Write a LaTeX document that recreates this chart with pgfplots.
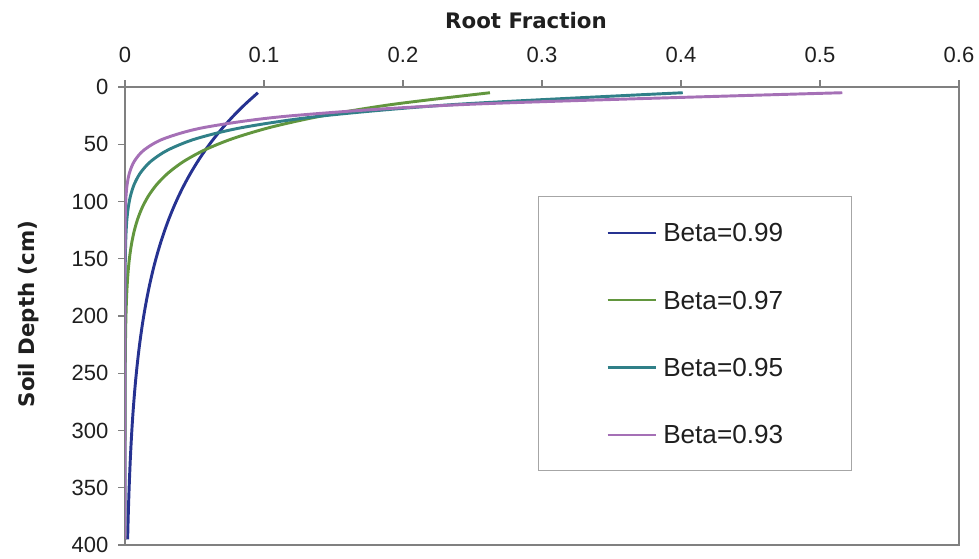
\documentclass[border=0pt]{standalone}
\usepackage{fontspec}
\setmainfont{Liberation Sans}
\newfontfamily\dejavu{DejaVu Sans}
\usepackage{pgfplots}
\usepackage{pgfplotstable}
\pgfplotsset{compat=1.18}
\definecolor{cblue}{RGB}{38,50,145}
\definecolor{cgreen}{RGB}{98,150,62}
\definecolor{cteal}{RGB}{48,128,136}
\definecolor{cpurple}{RGB}{165,112,182}
\pgfplotstableread{
d f
5 0.09562
15 0.08648
25 0.07821
35 0.07073
45 0.06397
55 0.05785
65 0.05232
75 0.04732
85 0.04279
95 0.03870
105 0.03500
115 0.03165
125 0.02863
135 0.02589
145 0.02341
155 0.02117
165 0.01915
175 0.01732
185 0.01566
195 0.01417
205 0.01281
215 0.01159
225 0.01048
235 0.00948
245 0.00857
255 0.00775
265 0.00701
275 0.00634
285 0.00573
295 0.00518
305 0.00469
315 0.00424
325 0.00383
335 0.00347
345 0.00314
355 0.00284
365 0.00257
375 0.00232
385 0.00210
395 0.00190
}\tbA
\pgfplotstableread{
d f
5 0.26258
15 0.19363
25 0.14279
35 0.10530
45 0.07765
55 0.05726
65 0.04222
75 0.03114
85 0.02296
95 0.01693
105 0.01249
115 0.00921
125 0.00679
135 0.00501
145 0.00369
155 0.00272
165 0.00201
175 0.00148
185 0.00109
195 0.00081
205 0.00059
215 0.00044
225 0.00032
235 0.00024
245 0.00018
255 0.00013
265 0.00010
275 0.00007
285 0.00005
295 0.00004
305 0.00003
315 0.00002
325 0.00002
335 0.00001
345 0.00001
355 0.00001
365 0.00000
375 0.00000
385 0.00000
395 0.00000
}\tbB
\pgfplotstableread{
d f
5 0.40126
15 0.24025
25 0.14385
35 0.08613
45 0.05157
55 0.03088
65 0.01849
75 0.01107
85 0.00663
95 0.00397
105 0.00238
115 0.00142
125 0.00085
135 0.00051
145 0.00031
155 0.00018
165 0.00011
175 0.00007
185 0.00004
195 0.00002
205 0.00001
215 0.00000
225 0.00000
235 0.00000
245 0.00000
255 0.00000
265 0.00000
275 0.00000
285 0.00000
295 0.00000
305 0.00000
315 0.00000
325 0.00000
335 0.00000
345 0.00000
355 0.00000
365 0.00000
375 0.00000
385 0.00000
395 0.00000
}\tbC
\pgfplotstableread{
d f
5 0.51602
15 0.24974
25 0.12087
35 0.05850
45 0.02831
55 0.01370
65 0.00663
75 0.00321
85 0.00155
95 0.00075
105 0.00036
115 0.00018
125 0.00008
135 0.00004
145 0.00002
155 0.00001
165 0.00000
175 0.00000
185 0.00000
195 0.00000
205 0.00000
215 0.00000
225 0.00000
235 0.00000
245 0.00000
255 0.00000
265 0.00000
275 0.00000
285 0.00000
295 0.00000
305 0.00000
315 0.00000
325 0.00000
335 0.00000
345 0.00000
355 0.00000
365 0.00000
375 0.00000
385 0.00000
395 0.00000
}\tbD
\begin{document}
\begin{tikzpicture}
\begin{axis}[
  at={(0pt,0pt)}, anchor=south west,
  scale only axis,
  width=625.5pt, height=343.5pt,
  xmin=0, xmax=0.6, ymin=0, ymax=400,
  y dir=reverse,
  xtick={0,0.1,0.2,0.3,0.4,0.5,0.6},
  xticklabels={0,0.1,0.2,0.3,0.4,0.5,0.6},
  ytick={0,50,100,150,200,250,300,350,400},
  xtick pos=upper, xticklabel pos=upper,
  ytick pos=left,
  tick align=outside,
  major tick length=5pt,
  axis line style={draw=black!50, line width=1.5pt},
  major tick style={draw=black!50, line width=0.9pt},
  ticklabel style={font=\fontsize{16.5}{19}\selectfont, text=black!88},
  /pgf/number format/assume math mode=true,
  xticklabel style={yshift=10pt},
  yticklabel style={xshift=-4pt},
  legend style={at={(axis cs:0.2971,95.2)}, anchor=north west,
    draw=black!35, line width=0.75pt,
    inner xsep=51pt, inner ysep=20pt,
    row sep=36.5pt, column sep=5pt,
    font=\fontsize{19.6}{21}\selectfont, text=black!88,
    nodes={inner sep=0pt, text height=14pt, text depth=0pt, anchor=base west}},
  legend cell align=left,
  legend image code/.code={\draw[#1, line width=1.6pt] (0pt,6.8pt) -- (36pt,6.8pt);},
  every axis plot/.append style={line width=2.2pt, smooth, tension=0.5},
  clip mode=individual,
]
\addplot[cblue] table[x=f, y=d] {\tbA};
\addlegendentry{Beta=0.99}
\addplot[cgreen] table[x=f, y=d] {\tbB};
\addlegendentry{Beta=0.97}
\addplot[cteal] table[x=f, y=d] {\tbC};
\addlegendentry{Beta=0.95}
\addplot[cpurple] table[x=f, y=d] {\tbD};
\addlegendentry{Beta=0.93}
\node[anchor=base, font=\dejavu\bfseries\fontsize{16}{19}\selectfont, text=black!88] at (axis description cs:0.4808,1.1288) {Root Fraction};
\node[anchor=base, rotate=90, font=\dejavu\bfseries\fontsize{16}{19}\selectfont, text=black!88] at (axis description cs:-0.1085,0.5044) {Soil Depth (cm)};
\end{axis}
\pgfresetboundingbox
\path (-93.75pt,-9.75pt) rectangle (640.5pt,408.75pt);
\end{tikzpicture}
\end{document}
